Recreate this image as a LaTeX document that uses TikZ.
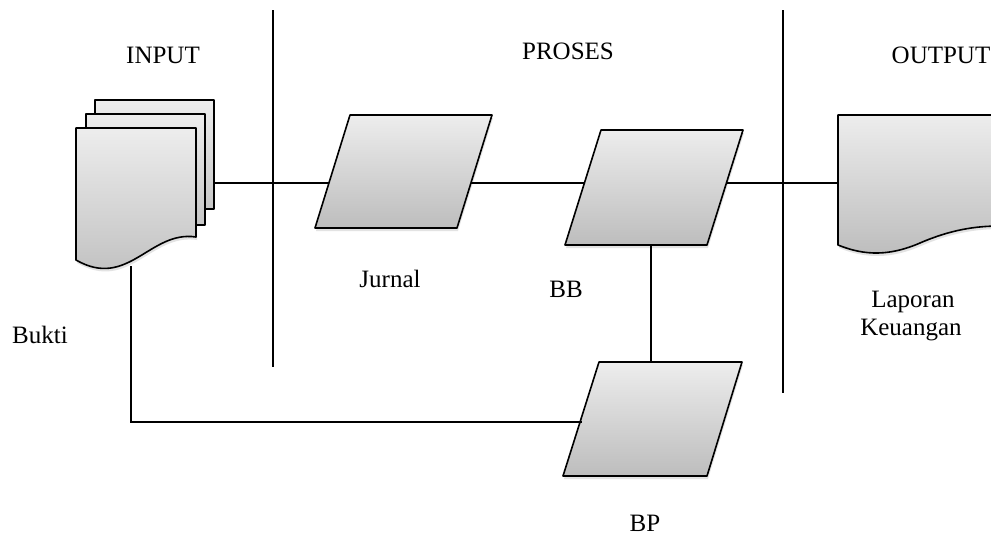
\documentclass[tikz,border=0pt]{standalone}
\usepackage{fontspec}
\setmainfont{Liberation Serif}
\usetikzlibrary{shadows}
\definecolor{gtop}{HTML}{EDEDED}
\definecolor{gbot}{HTML}{BDBDBD}
\tikzset{
  shapebox/.style={draw=black, line width=1.6pt, line join=round, top color=gtop, bottom color=gbot,
    drop shadow={opacity=0.22, shadow xshift=1pt, shadow yshift=-3pt}},
  pagebox/.style={draw=black, line width=1.6pt, line join=round, top color=gtop, bottom color=gbot!80!gtop},
  conn/.style={draw=black, line width=1.3pt},
  divider/.style={draw=black, line width=1.3pt},
  lbl/.style={font=\fontsize{25}{30}\selectfont, anchor=base, inner sep=0pt}
}
\begin{document}
\begin{tikzpicture}[x=1pt,y=-1pt]
\clip (0,0) rectangle (991,538);
\fill[white] (0,0) rectangle (991,538);

% dividers
\coordinate (d1t) at (273,10); \coordinate (d1b) at (273,367);
\coordinate (d2t) at (783,10); \coordinate (d2b) at (783,393);
\draw[divider] (d1t) -- (d1b);
\draw[divider] (d2t) -- (d2b);

% input document stack
\path[pagebox] (95,100) rectangle (214,209);
\path[pagebox] (86,114) rectangle (205,225);
\path[shapebox] (76,128) -- (196,128) -- (196,237)
   .. controls (150,230) and (128,290) .. (76,260) -- cycle;
\coordinate (docR) at (214,183);
\coordinate (docB) at (131,266);

% Jurnal
\path[shapebox] (350,115) -- (492,115) -- (457,228) -- (315,228) -- cycle;
\coordinate (jurL) at (329,183);
\coordinate (jurR) at (471,183);

% BB
\path[shapebox] (601,130) -- (743,130) -- (707,245) -- (565,245) -- cycle;
\coordinate (bbL) at (584,183);
\coordinate (bbR) at (726,183);
\coordinate (bbB) at (651,245);

% BP
\path[shapebox] (599,362) -- (742,362) -- (707,476) -- (563,476) -- cycle;
\coordinate (bpT) at (651,362);
\coordinate (bpL) at (582,422);

% output document
\path[shapebox] (838,115) -- (1000,115) -- (1000,226)
   .. controls (975,226) and (950,230) .. (920,243)
   .. controls (890,256) and (865,256) .. (838,245) -- cycle;
\coordinate (outL) at (838,183);

% connectors
\draw[conn] (docR) -- (jurL);
\draw[conn] (jurR) -- (bbL);
\draw[conn] (bbR) -- (outL);
\draw[conn] (bbB) -- (bpT);
\coordinate (corner) at (131,422);
\draw[conn] (docB) -- (corner) -- (bpL);

% labels
\node[lbl] (tin) at (163,63) {INPUT};
\node[lbl] (tpr) at (568,59) {PROSES};
\node[lbl] (tout) at (941,63) {OUTPUT};
\node[lbl] (tjur) at (390,287) {Jurnal};
\node[lbl] (tbb) at (566,297) {BB};
\node[lbl] (tbuk) at (40,343) {Bukti};
\node[lbl] (tlap) at (913,307) {Laporan};
\node[lbl] (tkeu) at (911,335) {Keuangan};
\node[lbl] (tbp) at (645,531) {BP};
\end{tikzpicture}
\end{document}
